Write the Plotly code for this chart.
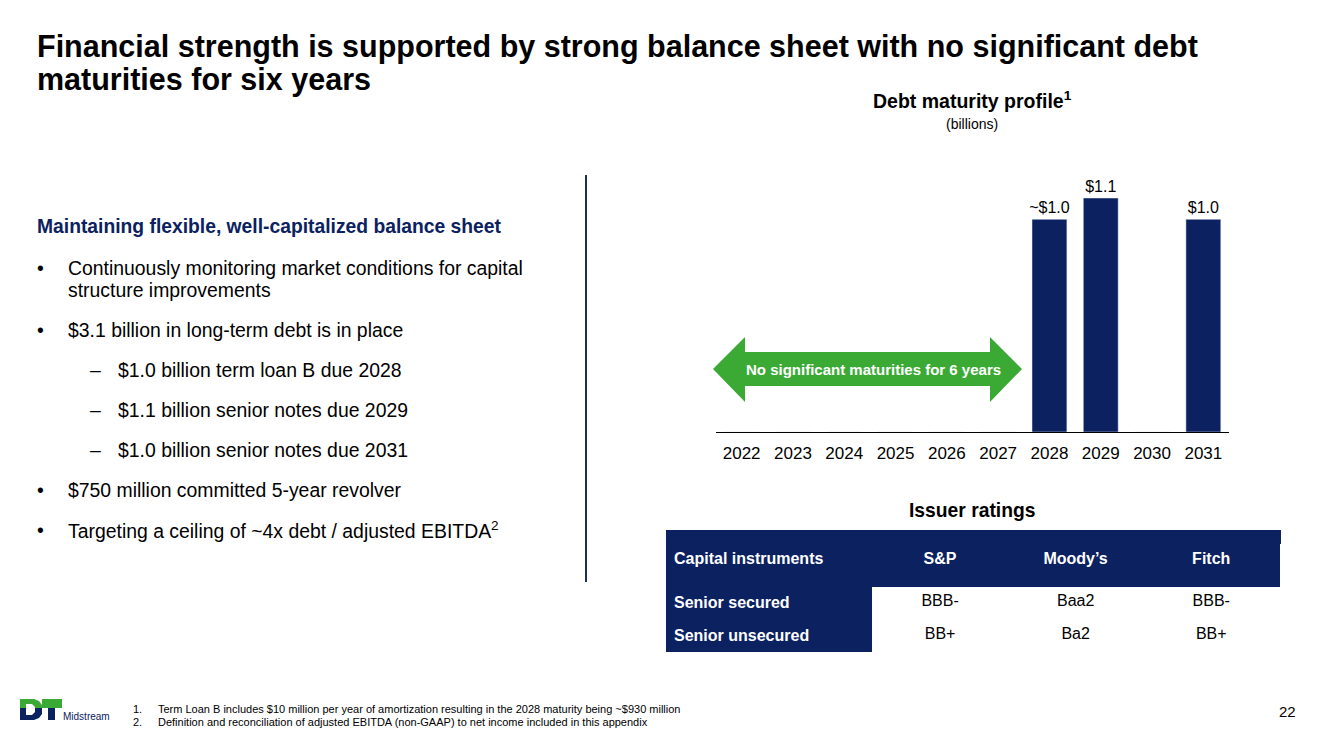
import plotly.graph_objects as go

W, H = 1323, 742
OFF = 8  # page body margin of the browser
NAVY = '#0b2160'
GREEN = '#3aaa35'
FONT = 'Arial, Liberation Sans, sans-serif'

# chart data
years = ['2022', '2023', '2024', '2025', '2026', '2027', '2028', '2029', '2030', '2031']
maturities = [0, 0, 0, 0, 0, 0, 1.0, 1.1, 0, 1.0]
bar_labels = ['', '', '', '', '', '', '~$1.0', '$1.1', '', '$1.0']

# ratings table
instruments = ['Senior secured', 'Senior unsecured']
sp = ['BBB-', 'BB+']
moodys = ['Baa2', 'Ba2']
fitch = ['BBB-', 'BB+']
table_header = ['Capital instruments', 'S&P', 'Moody’s', 'Fitch']

bullets = [
    ('•', 'Continuously monitoring market conditions for capital', 268),
    ('', 'structure improvements', 290),
    ('•', '$3.1 billion in long-term debt is in place', 330),
    ('–', '$1.0 billion term loan B due 2028', 370),
    ('–', '$1.1 billion senior notes due 2029', 410),
    ('–', '$1.0 billion senior notes due 2031', 450),
    ('•', '$750 million committed 5-year revolver', 490),
    ('•', 'Targeting a ceiling of ~4x debt / adjusted EBITDA<sup>2</sup>', 530),
]


def px(x, y):
    return (x - OFF) / W, 1 - (y - OFF) / H


def note(text, x, y, size, color='black', bold=False, xanchor='left', yanchor='middle'):
    if xanchor == 'left':
        x -= 2
    fx, fy = px(x, y)
    if bold:
        text = '<b>' + text + '</b>'
    return dict(text=text, x=fx, y=fy, xref='paper', yref='paper', showarrow=False,
                xanchor=xanchor, yanchor=yanchor, font=dict(family=FONT, size=size, color=color))


fig = go.Figure()

fig.add_trace(go.Bar(x=years, y=maturities, text=bar_labels, textposition='outside',
                     constraintext='none',
                     textfont=dict(family=FONT, size=16, color='black'),
                     marker=dict(color=NAVY), cliponaxis=False, hoverinfo='skip'))

cell_col = [NAVY, 'white', 'white', 'white']
tx0, ty0 = px(666, 652)
tx1, ty1 = px(1279, 542)
fig.add_trace(go.Table(
    domain=dict(x=[tx0, tx1], y=[ty0, ty1]),
    columnwidth=[207, 136, 136, 136],
    header=dict(values=['<b>' + h + '</b>' for h in table_header], fill_color=NAVY,
                line_color=NAVY, height=44, align=['left', 'center', 'center', 'center'],
                font=dict(family=FONT, size=16, color='white')),
    cells=dict(values=[['<b>' + i + '</b>' for i in instruments], sp, moodys, fitch],
               fill_color=cell_col, line_color=cell_col, height=33,
               align=['left', 'center', 'center', 'center'],
               font=dict(family=FONT, size=16, color=['white', 'black', 'black', 'black'])),
))

ann = []
ann.append(note('Financial strength is supported by strong balance sheet with no significant debt', 37, 46, 30.5, bold=True))
ann.append(note('maturities for six years', 37, 79, 30.5, bold=True))
ann.append(note('Debt maturity profile<sup>1</sup>', 972, 100, 19.5, bold=True, xanchor='center'))
ann.append(note('(billions)', 972, 124, 14, xanchor='center'))
ann.append(note('Maintaining flexible, well-capitalized balance sheet', 37, 226, 19.3, color=NAVY, bold=True))
for sym, txt, yy in bullets:
    if sym == '–':
        ann.append(note(sym, 90, yy, 19.4))
        ann.append(note(txt, 118, yy, 19.4))
    else:
        if sym:
            ann.append(note(sym, 37, yy, 19.4))
        ann.append(note(txt, 68, yy, 19.4))
ann.append(note('No significant maturities for 6 years', 873, 370, 15, color='white', bold=True, xanchor='center'))
ann.append(note('Issuer ratings', 972, 510, 19.3, bold=True, xanchor='center'))
ann.append(note('1.', 133, 709, 11))
ann.append(note('Term Loan B includes $10 million per year of amortization resulting in the 2028 maturity being ~$930 million', 158, 709, 11))
ann.append(note('2.', 133, 722, 11))
ann.append(note('Definition and reconciliation of adjusted EBITDA (non-GAAP) to net income included in this appendix', 158, 722, 11))
ann.append(note('22', 1287, 711, 15, xanchor='center'))
ann.append(note('Midstream', 63, 716, 10, color=NAVY))

shapes = []
# divider line
x0, y0 = px(586, 175)
x1, y1 = px(586, 582)
shapes.append(dict(type='line', xref='paper', yref='paper', x0=x0, y0=y0, x1=x1, y1=y1,
                   line=dict(color='#1f2d5a', width=2)))


def path(points):
    parts = []
    for i, (x, y) in enumerate(points):
        fx, fy = px(x, y)
        parts.append(('M' if i == 0 else 'L') + f'{fx:.5f},{fy:.5f}')
    return ' '.join(parts) + ' Z'


def block(points, color):
    return dict(type='path', xref='paper', yref='paper', path=path(points),
                fillcolor=color, line=dict(width=0))


# top strip of the table header
shapes.append(block([(666, 530), (1281, 530), (1281, 544), (666, 544)], NAVY))

# green double arrow
arrow = [(713, 369), (745, 337), (745, 352), (990, 352), (990, 337), (1022, 369),
         (990, 402), (990, 386), (745, 386), (745, 402)]
shapes.append(block(arrow, GREEN))

# logo
shapes.append(block([(20, 699), (34, 699), (39, 701), (42, 705), (42, 708), (20, 708)], GREEN))
shapes.append(block([(20, 708), (42, 708), (42, 714), (39, 718), (34, 720), (20, 720)], NAVY))
shapes.append(block([(26, 704), (32, 704), (35, 707), (35, 712), (32, 715), (26, 715)], 'white'))
shapes.append(block([(42, 699), (62, 699), (62, 708), (42, 708)], GREEN))
shapes.append(block([(48, 708), (55, 708), (55, 720), (48, 720)], NAVY))

ax0, ay0 = px(716, 432)
ax1, ay1 = px(1229, 160)
fig.update_layout(
    width=W, height=H, margin=dict(l=0, r=0, t=0, b=0),
    paper_bgcolor='white', plot_bgcolor='white', showlegend=False,
    bargap=0.32, annotations=ann, shapes=shapes,
    xaxis=dict(domain=[ax0, ax1], showline=True, linecolor='black', linewidth=1,
               showgrid=False, zeroline=False, ticks='', fixedrange=True, ticklabelstandoff=6,
               tickfont=dict(family=FONT, size=17, color='black')),
    yaxis=dict(domain=[ay0, ay1], range=[0, 272 / 212.7], visible=False, fixedrange=True),
)

fig.write_html('out.html')
